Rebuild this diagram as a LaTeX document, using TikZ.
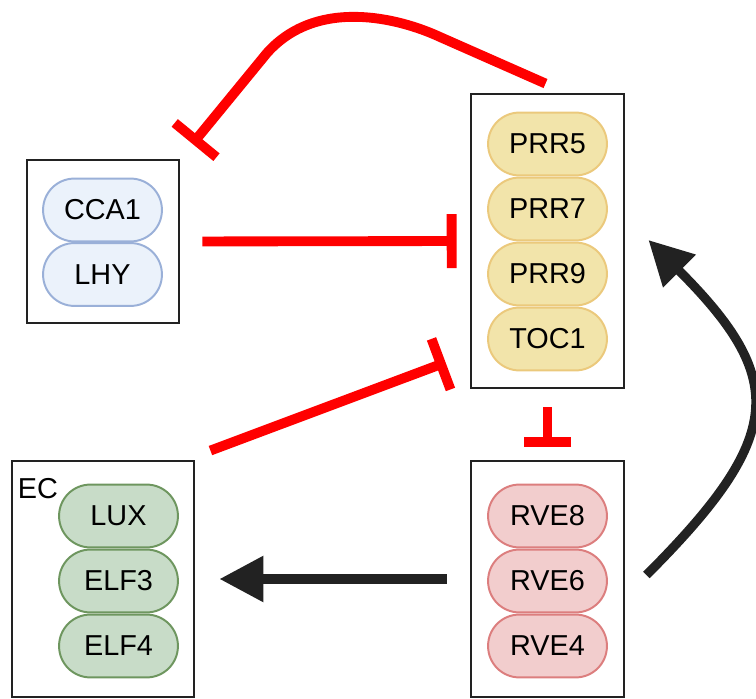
\documentclass[tikz,border=0pt]{standalone}
\usepackage{fontspec}
\setmainfont{Liberation Sans}
\usetikzlibrary{arrows.meta,positioning,calc}
\definecolor{inhibred}{HTML}{FF0000}
\definecolor{actblack}{HTML}{222222}
\definecolor{blueFill}{HTML}{EBF2FB}
\definecolor{blueLine}{HTML}{9AB0D8}
\definecolor{yellowFill}{HTML}{F2E4AA}
\definecolor{yellowLine}{HTML}{EBC97C}
\definecolor{greenFill}{HTML}{C8DCC8}
\definecolor{greenLine}{HTML}{6E965F}
\definecolor{redFill}{HTML}{F2CDCD}
\definecolor{redLine}{HTML}{DC7E7E}
\tikzset{
  groupbox/.style={draw=actblack, line width=2pt, minimum width=3.825cm, inner sep=0pt},
  pill/.style={rectangle, rounded corners=0.78cm, draw, line width=1.4pt, minimum width=2.97cm,
    minimum height=1.57cm, inner sep=0pt, font=\fontsize{20.5}{24}\selectfont},
  bluepill/.style={pill, fill=blueFill, draw=blueLine},
  yellowpill/.style={pill, fill=yellowFill, draw=yellowLine},
  greenpill/.style={pill, fill=greenFill, draw=greenLine},
  redpill/.style={pill, fill=redFill, draw=redLine},
  grouplabel/.style={inner sep=0pt, font=\fontsize{20.5}{24}\selectfont},
  inhibit/.style={draw=inhibred, line width=7pt, -{Bar[width=1.35cm]}},
  activate/.style={draw=actblack, line width=6.5pt, -{Triangle[length=1.1cm, width=1.1cm]}}
}

\begin{document}
\begin{tikzpicture}[x=0.025cm, y=0.025cm]
  \useasboundingbox (0,0) rectangle (756,698);
  % groups
  \node[groupbox, minimum width=3.8cm, minimum height=4.075cm] (cca) at (103,456.5) {};
  \node[groupbox, minimum height=7.35cm] (prr) at (547.5,457) {};
  \node[groupbox, minimum width=4.55cm, minimum height=5.9cm] (ec) at (103,119) {};
  \node[groupbox, minimum height=5.9cm] (rve) at (547.5,119) {};
  % proteins
  \node[bluepill] (cca1) at (102.5,488) {CCA1};
  \node[bluepill] (lhy) at (102.5,423.5) {LHY};
  \node[yellowpill] (prr5) at (547.5,554) {PRR5};
  \node[yellowpill] (prr7) at (547.5,489) {PRR7};
  \node[yellowpill] (prr9) at (547.5,424) {PRR9};
  \node[yellowpill] (toc1) at (547.5,359) {TOC1};
  \node[greenpill] (lux) at (118.5,182) {LUX};
  \node[greenpill] (elf3) at (118.5,117) {ELF3};
  \node[greenpill] (elf4) at (118.5,52) {ELF4};
  \node[redpill] (rve8) at (547.5,182) {RVE8};
  \node[redpill] (rve6) at (547.5,117) {RVE6};
  \node[redpill] (rve4) at (547.5,52) {RVE4};
  \node[grouplabel] (eclabel) at (38,209) {EC};
  % repression
  \draw[inhibit, shorten >=0.475cm] ([shift={(-2,9)}]prr.north) -- (440,661)
    .. controls (399,680) and (317,701) .. (267,645) -- (cca.north east);
  \draw[inhibit, shorten <=0.55cm, shorten >=0.325cm] (cca.east) -- (prr.west);
  \draw[inhibit] ([shift={(15,9)}]ec.north east) -- ([shift={(-24,27)}]prr.south west);
  \draw[inhibit, -{Bar[width=1.18cm]}, shorten <=0.45cm, shorten >=0.325cm] (prr.south) -- (rve.north);
  % activation
  \draw[activate, shorten <=0.575cm, shorten >=0.6cm] (rve.west) -- (ec.east);
  \draw[activate] ([shift={(21,4)}]rve.east) to[out=45, in=-45, looseness=1.5] ([shift={(23,1)}]prr.east);
\end{tikzpicture}
\end{document}
